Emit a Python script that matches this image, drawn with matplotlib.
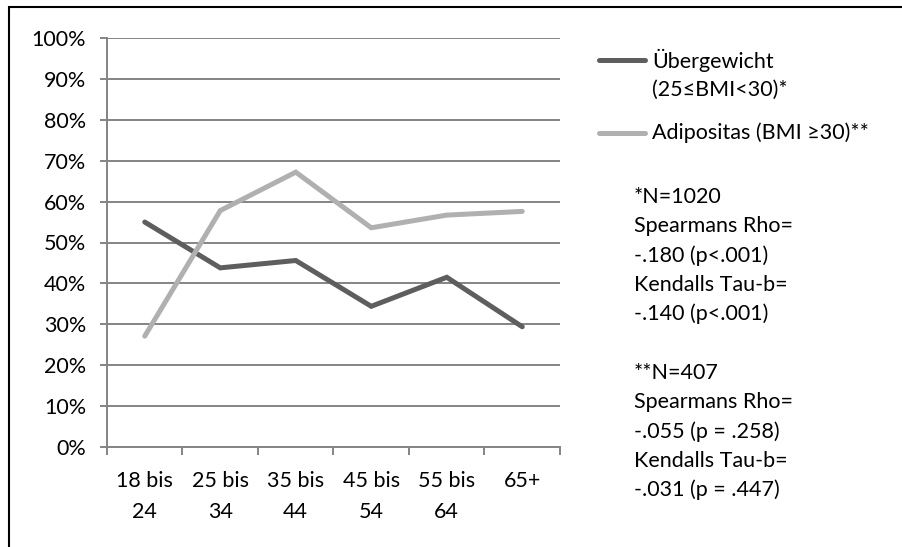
import matplotlib.pyplot as plt
from matplotlib.patches import Rectangle
from matplotlib.lines import Line2D
import numpy as np

plt.rcParams['font.family'] = ['Lato', 'DejaVu Sans']

categories = ["18 bis\n24", "25 bis\n34", "35 bis\n44", "45 bis\n54", "55 bis\n64", "65+"]
uebergewicht = [55.0, 43.8, 45.6, 34.4, 41.5, 29.4]
adipositas = [27.1, 57.8, 67.2, 53.6, 56.7, 57.6]

label_ueber = ["Übergewicht", "(25≤BMI<30)*"]
label_adipo = "Adipositas (BMI ≥30)**"
stats_text = ["*N=1020", "Spearmans Rho=", "-.180 (p<.001)", "Kendalls Tau-b=",
              "-.140 (p<.001)", "", "**N=407", "Spearmans Rho=",
              "-.055 (p = .258)", "Kendalls Tau-b=", "-.031 (p = .447)"]

dark = "#5e5e5e"
light = "#b0b0b0"
grid_c = "#848484"
fs = 15.5

W, H = 903, 547
fig = plt.figure(figsize=(W / 100, H / 100), dpi=100)

# outer frame
fig.patches.append(Rectangle((9 / W, -0.1), 1.2, 1.1 - 7 / H, transform=fig.transFigure,
                             fill=False, edgecolor="black", linewidth=1.5))

ax = fig.add_axes([107 / W, 1 - 447 / H, (560 - 107) / W, (447 - 38) / H])
x = np.arange(len(categories))
ax.plot(x, uebergewicht, color=dark, linewidth=3.6, solid_capstyle="round", solid_joinstyle="miter")
ax.plot(x, adipositas, color=light, linewidth=3.6, solid_capstyle="round", solid_joinstyle="miter")

ax.set_xlim(-0.5, len(categories) - 0.5)
ax.set_ylim(0, 100)
ax.set_yticks(np.arange(0, 101, 10))
ax.set_yticklabels([f"{v}%" for v in range(0, 101, 10)])
ax.set_xticks(x)
ax.set_xticklabels(categories, linespacing=1.7)
ax.set_xticks(np.arange(-0.5, len(categories), 1), minor=True)
ax.tick_params(axis="x", which="major", length=0, pad=17, labelsize=fs)
ax.tick_params(axis="x", which="minor", length=6, color=grid_c, width=1.4)
ax.tick_params(axis="y", length=5, color=grid_c, width=1.4, pad=10, labelsize=fs)
ax.grid(axis="y", color=grid_c, linewidth=1.4)
ax.set_axisbelow(True)
for s in ["top", "right"]:
    ax.spines[s].set_visible(False)
for s in ["left", "bottom"]:
    ax.spines[s].set_color(grid_c)
    ax.spines[s].set_linewidth(1.4)

# legend
fig.add_artist(Line2D([599 / W, 645 / W], [1 - 60 / H, 1 - 60 / H], color=dark, linewidth=3.6,
                      solid_capstyle="round", transform=fig.transFigure))
fig.text(652 / W, 1 - 60 / H, label_ueber[0], fontsize=fs, va="center")
fig.text(652 / W, 1 - 90 / H, label_ueber[1], fontsize=fs, va="center")
fig.add_artist(Line2D([599 / W, 645 / W], [1 - 133 / H, 1 - 133 / H], color=light, linewidth=3.6,
                      solid_capstyle="round", transform=fig.transFigure))
fig.text(652 / W, 1 - 133 / H, label_adipo, fontsize=fs, va="center")

for i, line in enumerate(stats_text):
    fig.text(634 / W, 1 - (197 + 29.3 * i) / H, line, fontsize=fs, va="center")

fig.savefig("out.png", dpi=100)
